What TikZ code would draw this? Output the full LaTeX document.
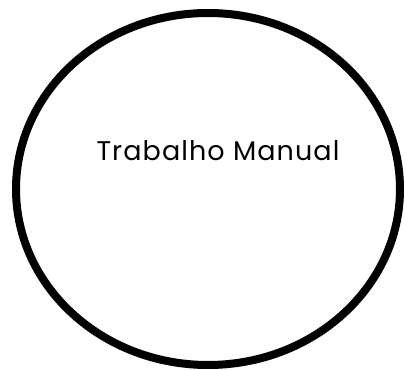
\documentclass[tikz,border=0pt]{standalone}
\usepackage{fontspec}
\setmainfont{Poppins}
\newfontfamily\labelfont[LetterSpace=4]{Poppins}
\usetikzlibrary{shapes.geometric}
\begin{document}
\begin{tikzpicture}[x=1pt,y=-1pt,
  oval/.style={draw=black,line width=8pt,ellipse,minimum width=384pt,minimum height=352pt,inner sep=0pt},
  label/.style={font=\labelfont\fontsize{27}{31}\selectfont,inner sep=0pt,anchor=base}]
\useasboundingbox (0,0) rectangle (405,370);
\node[oval] (e) at (208,189) {};
\node[label] (t) at (218,160) {Trabalho Manual};
\end{tikzpicture}
\end{document}
